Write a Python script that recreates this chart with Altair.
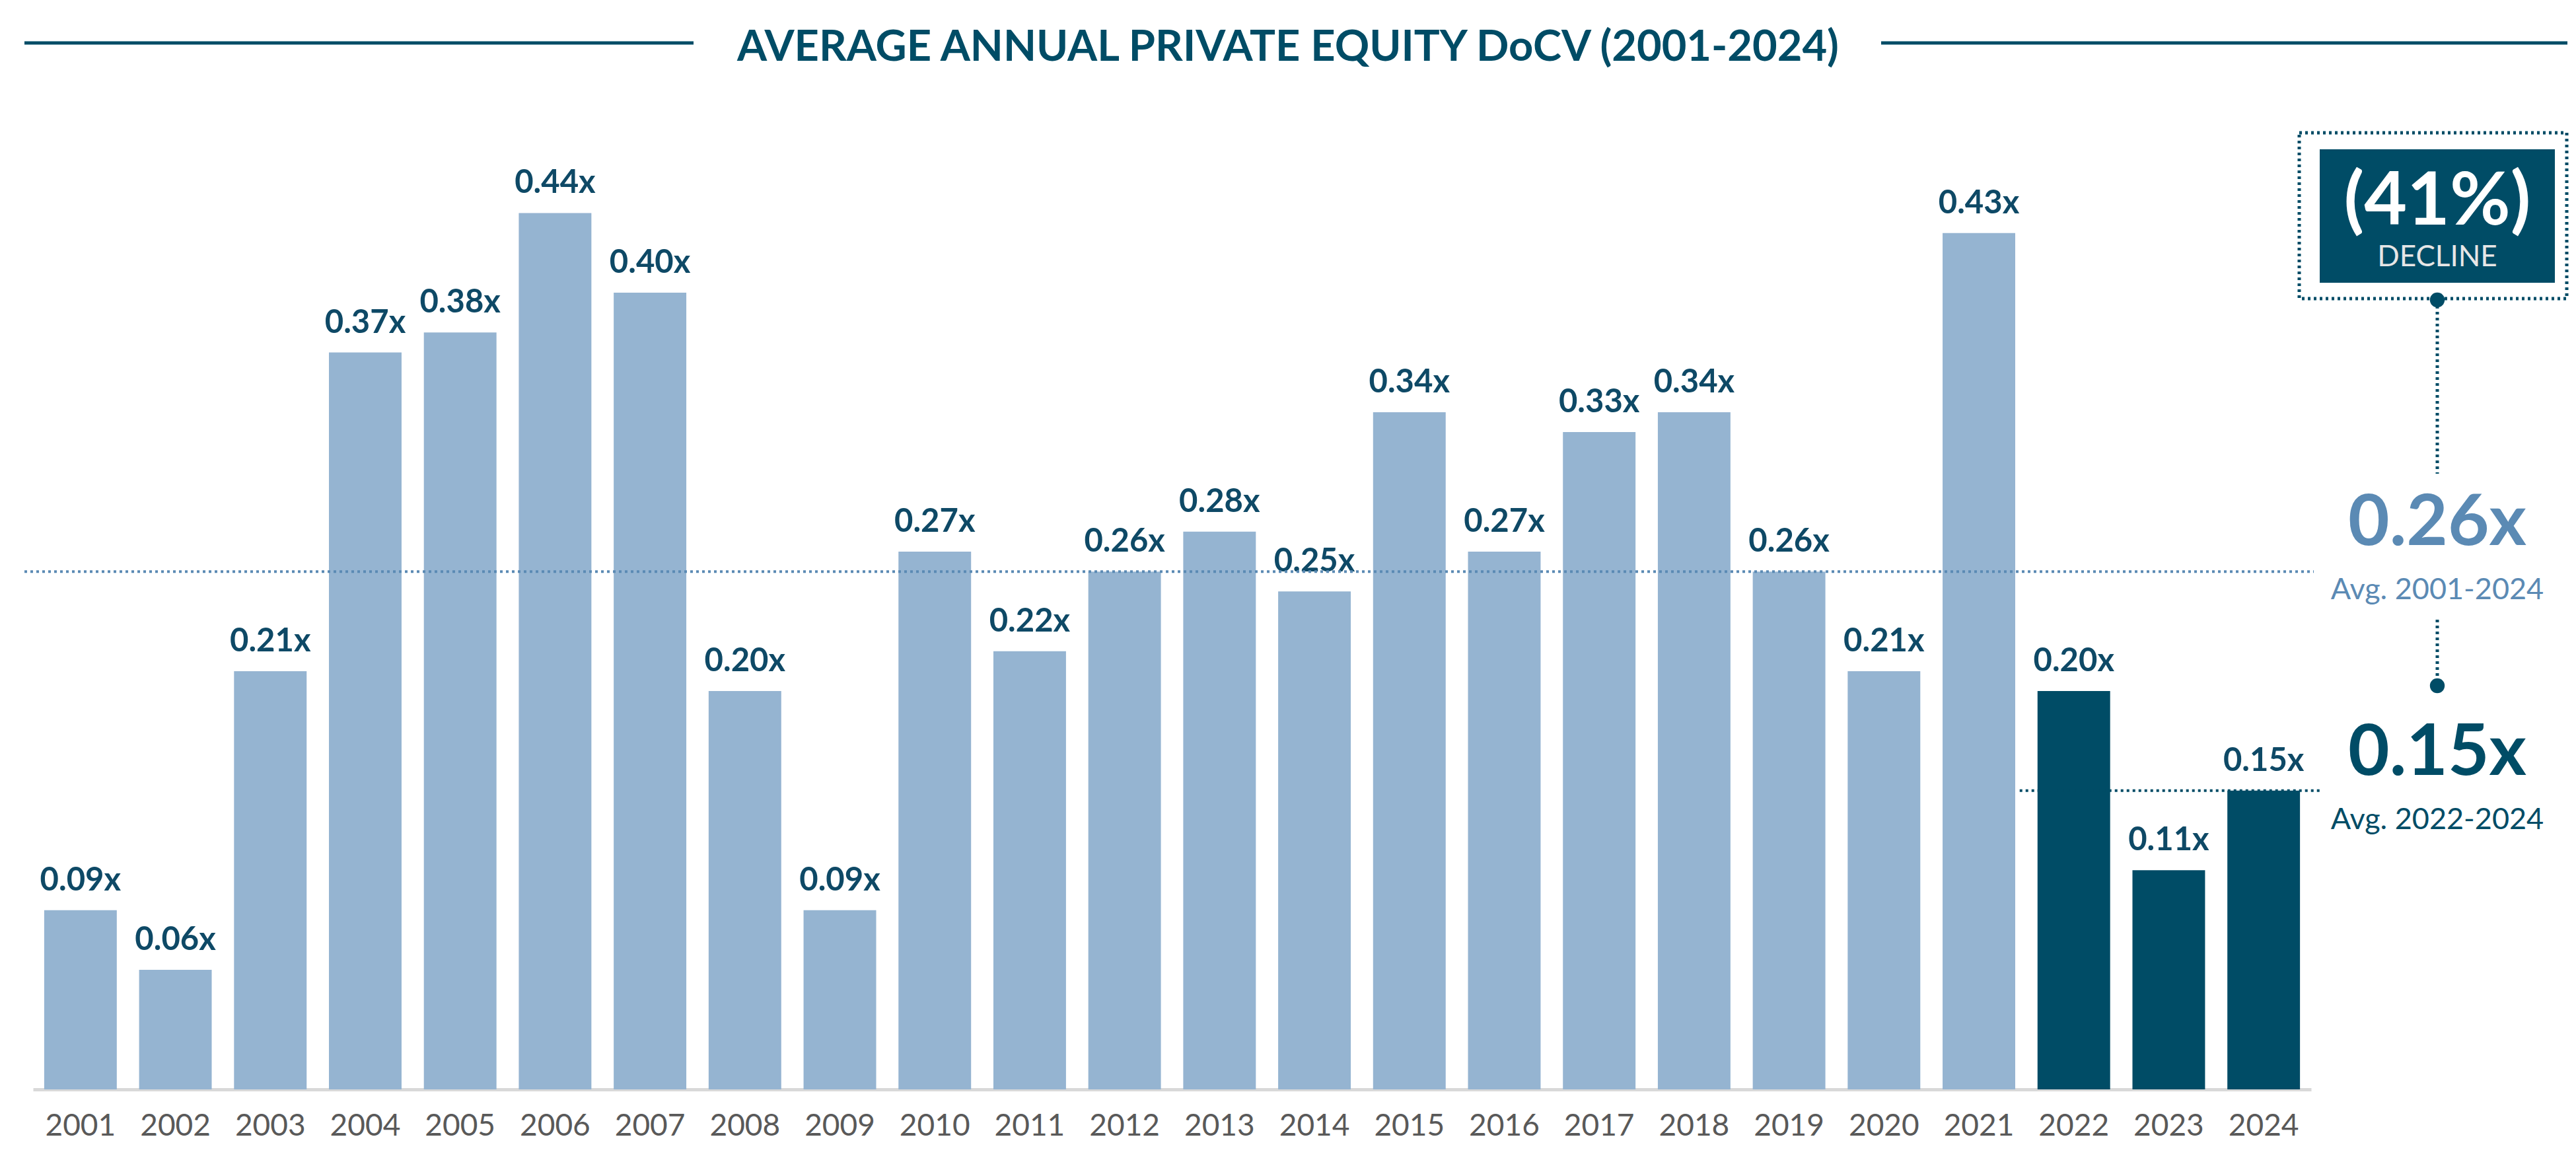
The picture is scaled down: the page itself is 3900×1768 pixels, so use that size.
import altair as alt
import pandas as pd

years = [str(y) for y in range(2001, 2025)]
docv = [0.09, 0.06, 0.21, 0.37, 0.38, 0.44, 0.40, 0.20, 0.09, 0.27, 0.22, 0.26,
        0.28, 0.25, 0.34, 0.27, 0.33, 0.34, 0.26, 0.21, 0.43, 0.20, 0.11, 0.15]
recent_years = ["2022", "2023", "2024"]
avg_all = 0.26
avg_recent = 0.15
title_text = "AVERAGE ANNUAL PRIVATE EQUITY DoCV (2001-2024)"
decline_text = "(41%)"

LIGHT = "#95b4d1"
DARK = "#004c66"
MID = "#5b8ab4"
GRAY = "#595959"
FONT = "Lato"

W, H = 3449, 1628
YMAX = 0.54

df = pd.DataFrame({
    "year": years,
    "value": docv,
    "label": [f"{v:.2f}x" for v in docv],
    "recent": [y in recent_years for y in years],
})

x = alt.X("year:N", sort=years,
          scale=alt.Scale(paddingInner=0.235, paddingOuter=0.1175),
          axis=alt.Axis(title=None, labelFont=FONT, labelFontSize=46, labelColor=GRAY,
                        labelPadding=33, ticks=False, domainColor="#d9d9d9",
                        domainWidth=5, labelAngle=0, grid=False))
y = alt.Y("value:Q", scale=alt.Scale(domain=[0, YMAX], nice=False, zero=True),
          axis=None)

base = alt.Chart(df)

bars = base.mark_bar().encode(
    x=x, y=y,
    color=alt.condition(alt.datum.recent, alt.value(DARK), alt.value(LIGHT)),
)

labels = base.mark_text(font=FONT, fontSize=49, fontWeight="bold", color="#0e4966",
                        baseline="alphabetic", dy=-30).encode(
    x=alt.X("year:N", sort=years), y="value:Q", text="label:N")

ref_all = alt.Chart(pd.DataFrame({"v": [avg_all]})).mark_rule(
    color=MID, strokeWidth=4, strokeDash=[4, 5]).encode(
    y="v:Q", x=alt.value(-13), x2=alt.value(W + 4))

ref_recent = alt.Chart(pd.DataFrame({"v": [avg_recent], "a": [recent_years[0]],
                                     "b": [recent_years[-1]]})).mark_rule(
    color=DARK, strokeWidth=4, strokeDash=[4, 5], xOffset=-82, x2Offset=87).encode(
    y="v:Q", x=alt.X("a:N", sort=years), x2="b:N")

# title with side lines
title = alt.Chart(pd.DataFrame({"t": [title_text]})).mark_text(
    font=FONT, fontSize=65, fontWeight="bold", color=DARK, align="center",
    baseline="alphabetic").encode(x=alt.value(1900), y=alt.value(71), text="t:N")
tl1 = alt.Chart(pd.DataFrame({"a": [0]})).mark_rule(color=DARK, strokeWidth=5).encode(
    x=alt.value(-13), x2=alt.value(1000), y=alt.value(44))
tl2 = alt.Chart(pd.DataFrame({"a": [0]})).mark_rule(color=DARK, strokeWidth=5).encode(
    x=alt.value(2798), x2=alt.value(3837), y=alt.value(44))

# annotation box
CX = 3640
outer = alt.Chart(pd.DataFrame({"a": [0]})).mark_rect(
    fill=None, stroke=DARK, strokeWidth=5, strokeDash=[4, 5]).encode(
    x=alt.value(3431), x2=alt.value(3836), y=alt.value(180), y2=alt.value(431))
inner = alt.Chart(pd.DataFrame({"a": [0]})).mark_rect(fill=DARK).encode(
    x=alt.value(3462), x2=alt.value(3818), y=alt.value(205), y2=alt.value(407))
pct = alt.Chart(pd.DataFrame({"t": [decline_text]})).mark_text(
    font=FONT, fontSize=112, fontWeight="bold", color="white", align="center",
    baseline="middle").encode(x=alt.value(CX), y=alt.value(285), text="t:N")
dec = alt.Chart(pd.DataFrame({"t": ["DECLINE"]})).mark_text(
    font=FONT, fontSize=44, color="#e6e6e6", align="center",
    baseline="middle").encode(x=alt.value(CX), y=alt.value(369), text="t:N")
conn1 = alt.Chart(pd.DataFrame({"a": [0]})).mark_rule(
    color=DARK, strokeWidth=5, strokeDash=[4, 5]).encode(
    x=alt.value(CX), y=alt.value(433), y2=alt.value(696))
conn2 = alt.Chart(pd.DataFrame({"a": [0]})).mark_rule(
    color=DARK, strokeWidth=5, strokeDash=[4, 5]).encode(
    x=alt.value(CX), y=alt.value(917), y2=alt.value(1017))
dots = alt.Chart(pd.DataFrame({"yy": [433, 1017]})).mark_point(
    filled=True, color=DARK, opacity=1, size=500, shape="circle").encode(
    x=alt.value(CX), y=alt.Y("yy:Q", scale=None))

big_all = alt.Chart(pd.DataFrame({"v": [avg_all], "t": [f"{avg_all:.2f}x"]})).mark_text(
    font=FONT, fontSize=108, fontWeight="bold", color=MID, align="center",
    baseline="middle", dy=-72).encode(x=alt.value(CX), y="v:Q", text="t:N")
sub_all = alt.Chart(pd.DataFrame({"v": [avg_all], "t": ["Avg. 2001-2024"]})).mark_text(
    font=FONT, fontSize=45, color=MID, align="center",
    baseline="middle", dy=28).encode(x=alt.value(CX), y="v:Q", text="t:N")
big_rec = alt.Chart(pd.DataFrame({"v": [avg_recent], "t": [f"{avg_recent:.2f}x"]})).mark_text(
    font=FONT, fontSize=108, fontWeight="bold", color=DARK, align="center",
    baseline="middle", dy=-56).encode(x=alt.value(CX), y="v:Q", text="t:N")
sub_rec = alt.Chart(pd.DataFrame({"v": [avg_recent], "t": ["Avg. 2022-2024"]})).mark_text(
    font=FONT, fontSize=45, color=DARK, align="center",
    baseline="middle", dy=44).encode(x=alt.value(CX), y="v:Q", text="t:N")

chart = alt.layer(
    bars, labels, ref_all, ref_recent, title, tl1, tl2,
    outer, inner, pct, dec, conn1, conn2, dots, big_all, sub_all, big_rec, sub_rec,
).properties(
    width=W, height=H,
    background="white",
    padding={"left": 42, "top": 13, "right": 393, "bottom": 111},
    autosize=alt.AutoSizeParams(type="none"),
).configure_view(strokeWidth=0, stroke="transparent")

chart.save("out.html", embed_options={"renderer": "svg", "actions": False})
